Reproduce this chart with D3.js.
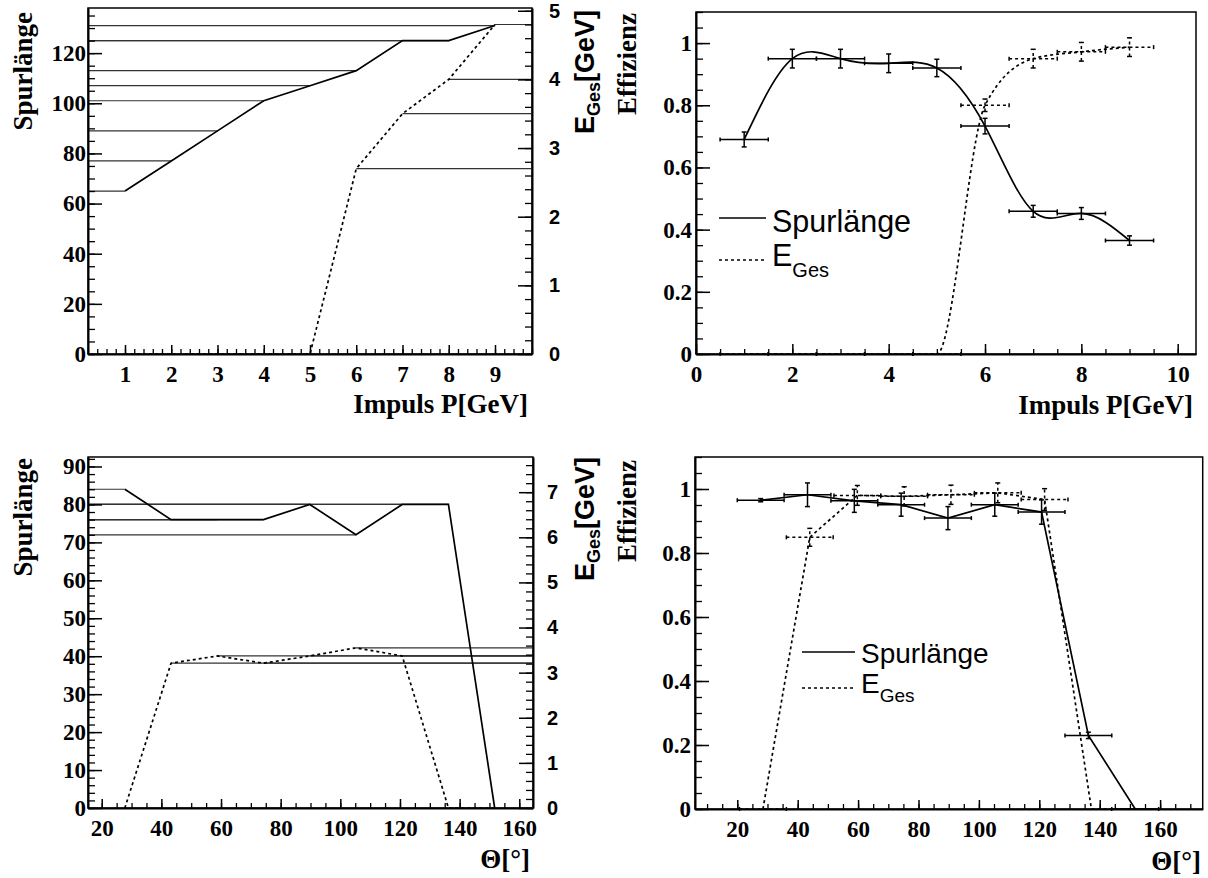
<!DOCTYPE html>
<html>
<head>
<meta charset="utf-8">
<script src="https://cdn.jsdelivr.net/npm/d3@7"></script>
<style>
  body { margin: 0; background: #fff; }
  svg { display: block; }
</style>
</head>
<body>
<svg id="chart" width="1208" height="878"></svg>
<script>
// ---- Daten ----
// Impuls-Scan
const impuls = [1, 2, 3, 4, 5, 6, 7, 8, 9];
const impulsHalfBin = 0.5;
const spurlaengeP = [65, 77, 89, 101, 107, 113, 125, 125, 131];
const eGesP = [0, 0, 0, 0, 0, 2.7, 3.5, 4.0, 4.8];
const effSpurP = [0.69, 0.95, 0.95, 0.935, 0.92, 0.733, 0.459, 0.452, 0.365];
const effSpurPErr = [0.024, 0.03, 0.03, 0.03, 0.028, 0.025, 0.019, 0.019, 0.015];
const effEP = [0, 0, 0, 0, 0, 0.80, 0.95, 0.972, 0.987];
const effEPErr = [0, 0, 0, 0, 0, 0.02, 0.03, 0.03, 0.03];

// Winkel-Scan
const theta = [27.75, 43.25, 58.75, 74.25, 89.75, 105.25, 120.75, 136.25, 151.75];
const thetaE = [28.5, 44, 59.75, 75.25, 90.75, 106.25, 121.75, 137.25, 152.75]; // E_Ges leicht versetzt
const thetaHalfBin = 7.75;
const spurlaengeTheta = [84, 76, 76, 76, 80, 72, 80, 80, 0];
const eGesTheta = [0, 3.21, 3.37, 3.21, 3.37, 3.55, 3.37, 0, 0];
const effSpurTheta = [0.965, 0.982, 0.963, 0.951, 0.909, 0.951, 0.928, 0.23, 0];
const effSpurThetaErr = [0.005, 0.037, 0.036, 0.036, 0.036, 0.036, 0.038, 0.01, 0];
const effETheta = [0, 0.849, 0.98, 0.977, 0.982, 0.988, 0.967, 0, 0];
const effEThetaErr = [0, 0.028, 0.031, 0.03, 0.03, 0.031, 0.034, 0, 0];

// Achsenbeschriftungen
const ticksP = [1, 2, 3, 4, 5, 6, 7, 8, 9];
const ticksP2 = [0, 2, 4, 6, 8, 10];
const ticksSpurP = [0, 20, 40, 60, 80, 100, 120];
const ticksEP = [0, 1, 2, 3, 4, 5];
const ticksEff = [0, 0.2, 0.4, 0.6, 0.8, 1];
const ticksTheta = [20, 40, 60, 80, 100, 120, 140, 160];
const ticksSpurTheta = [0, 10, 20, 30, 40, 50, 60, 70, 80, 90];
const ticksETheta = [0, 1, 2, 3, 4, 5, 6, 7];

const SERIF = '"Liberation Serif", "Times New Roman", serif';
const SANS = '"Liberation Sans", Arial, Helvetica, sans-serif';
const DASH = '3,3';

const svg = d3.select('#chart');
let clipCount = 0;

// Achse im ROOT-Stil: Haupt- und Nebenstriche nach innen
function rootAxis(g, axisFn, scale, transform, major, minor, majLen, minLen, pad, font, fsize) {
    g.append('g').attr('transform', transform)
        .call(axisFn(scale).tickValues(minor).tickSizeInner(-minLen).tickSizeOuter(0).tickFormat(''))
        .call(a => a.select('.domain').remove())
        .selectAll('line').attr('stroke-width', 1.3);
    const a = g.append('g').attr('transform', transform)
        .call(axisFn(scale).tickValues(major).tickSizeInner(-majLen).tickSizeOuter(0)
            .tickPadding(pad).tickFormat(d => String(d)));
    a.attr('font-family', null).attr('font-size', null);
    a.select('.domain').attr('stroke-width', 2);
    a.selectAll('line').attr('stroke-width', 1.5);
    a.selectAll('text')
        .style('font-family', font).style('font-size', fsize + 'px')
        .style('font-weight', 'bold').style('fill', '#000');
    return a;
}

function frame(g, x, y) {
    const [x0, x1] = x.range();
    const [yb, yt] = y.range();
    g.append('rect').attr('x', x0).attr('y', yt).attr('width', x1 - x0).attr('height', yb - yt)
        .attr('fill', 'none').attr('stroke', '#000').attr('stroke-width', 1.5);
    const id = 'clip' + (clipCount++);
    g.append('clipPath').attr('id', id).append('rect')
        .attr('x', x0).attr('y', yt).attr('width', x1 - x0).attr('height', yb - yt);
    return 'url(#' + id + ')';
}

function rotTitle(g, x, y, parts) {
    const t = g.append('text').attr('transform', `translate(${x},${y}) rotate(-90)`)
        .attr('text-anchor', 'end');
    parts.forEach(p => {
        const s = t.append('tspan').text(p.text).style('font-family', p.font)
            .style('font-size', p.size + 'px').style('font-weight', 'bold');
        if (p.dy) s.attr('dy', p.dy);
    });
    return t;
}

function xTitle(g, x, y, text, size) {
    g.append('text').attr('x', x).attr('y', y).attr('text-anchor', 'end')
        .style('font-family', SERIF).style('font-weight', 'bold').style('font-size', size + 'px').text(text);
}

function errorBars(g, xs, ys, errs, half, x, y, dashed) {
    const eb = g.append('g').attr('stroke', '#000').attr('stroke-width', 1.5);
    const dash = dashed ? DASH : null;
    xs.forEach((xv, i) => {
        const cy = y(ys[i]), xa = x(xv - half), xb = x(xv + half), cx = x(xv);
        eb.append('line').attr('x1', xa).attr('x2', xb).attr('y1', cy).attr('y2', cy)
            .attr('stroke-dasharray', dash);
        [xa, xb].forEach(e => eb.append('line').attr('x1', e).attr('x2', e)
            .attr('y1', cy - 2).attr('y2', cy + 2));
        if (errs[i] > 0) {
            const ya = y(ys[i] - errs[i]), yb = y(ys[i] + errs[i]);
            eb.append('line').attr('x1', cx).attr('x2', cx).attr('y1', ya).attr('y2', yb)
                .attr('stroke-dasharray', dash);
            [ya, yb].forEach(e => eb.append('line').attr('x1', cx - 2.5).attr('x2', cx + 2.5)
                .attr('y1', e).attr('y2', e));
        }
    });
}

function legend(g, x0, x1, tx, ySolid, yDash, size, subSize) {
    g.append('line').attr('x1', x0).attr('x2', x1).attr('y1', ySolid.line).attr('y2', ySolid.line)
        .attr('stroke', '#000').attr('stroke-width', 1.5);
    g.append('line').attr('x1', x0).attr('x2', x1).attr('y1', yDash.line).attr('y2', yDash.line)
        .attr('stroke', '#000').attr('stroke-width', 1.5).attr('stroke-dasharray', DASH);
    g.append('text').attr('x', tx).attr('y', ySolid.text).style('font-family', SANS)
        .style('font-size', size + 'px').text('Spurlänge');
    const e = g.append('text').attr('x', tx).attr('y', yDash.text).style('font-family', SANS)
        .style('font-size', size + 'px');
    e.append('tspan').text('E');
    e.append('tspan').style('font-size', subSize + 'px').attr('dy', yDash.sub).text('Ges');
}

// Projektionslinien (Punkt -> Achse)
function guides(g, xs, ys, x, y, side) {
    const [x0, x1] = x.range();
    g.append('g').selectAll('line').data(xs).join('line')
        .attr('x1', side === 'left' ? x0 : d => x(d))
        .attr('x2', side === 'left' ? d => x(d) : x1)
        .attr('y1', (d, i) => y(ys[i])).attr('y2', (d, i) => y(ys[i]))
        .attr('stroke', '#333').attr('stroke-width', 1.2);
}

function polyline(g, xs, ys, x, y, dashed, curve, clip) {
    const line = d3.line().x(d => x(d[0])).y(d => y(d[1])).curve(curve || d3.curveLinear);
    g.append('path').datum(xs.map((v, i) => [v, ys[i]])).attr('d', line)
        .attr('fill', 'none').attr('stroke', '#000').attr('stroke-width', 1.7)
        .attr('stroke-dasharray', dashed ? DASH : null).attr('clip-path', clip || null);
}

const eTitle = [{text: 'E', font: SANS, size: 27}, {text: 'Ges', font: SANS, size: 18, dy: 6},
    {text: '[GeV]', font: SANS, size: 27, dy: -6}];

// ===== Panel 1: Spurlänge / E_Ges vs Impuls =====
{
    const g = svg.append('g');
    const x = d3.scaleLinear([0.2, 9.8], [88, 532]);
    const yL = d3.scaleLinear([0, 138], [354, 8]);
    const yR = d3.scaleLinear([0, 5.04], [354, 8]);
    frame(g, x, yL);
    guides(g, impuls, spurlaengeP, x, yL, 'left');
    guides(g, impuls, eGesP, x, yR, 'right');
    polyline(g, impuls, spurlaengeP, x, yL, false);
    polyline(g, impuls, eGesP, x, yR, true);
    rootAxis(g, d3.axisLeft, yL, 'translate(88,0)', ticksSpurP, d3.range(0, 138, 5), 14, 7, 2, SERIF, 23);
    rootAxis(g, d3.axisRight, yR, 'translate(532,0)', ticksEP, d3.range(0, 5.05, 0.2), 14, 7, 17, SANS, 20);
    rootAxis(g, d3.axisBottom, x, 'translate(0,354)', ticksP, d3.range(0.2, 9.81, 0.2), 9, 5, 12, SERIF, 23);
    rotTitle(g, 32, 12, [{text: 'Spurlänge', font: SERIF, size: 27}]);
    rotTitle(g, 594, 10, eTitle);
    xTitle(g, 528, 413, 'Impuls P[GeV]', 27);
}

// ===== Panel 2: Effizienz vs Impuls =====
{
    const g = svg.append('g');
    const x = d3.scaleLinear([0, 10.38], [696, 1196]);
    const y = d3.scaleLinear([0, 1.1], [354, 12]);
    const clip = frame(g, x, y);
    polyline(g, impuls, effSpurP, x, y, false, d3.curveNatural, clip);
    polyline(g, impuls, effEP, x, y, true, d3.curveMonotoneX, clip);
    errorBars(g, impuls, effSpurP, effSpurPErr, impulsHalfBin, x, y, false);
    errorBars(g, impuls, effEP, effEPErr, impulsHalfBin, x, y, true);
    rootAxis(g, d3.axisLeft, y, 'translate(696,0)', ticksEff, d3.range(0, 1.101, 0.05), 14, 7, 4, SERIF, 23);
    rootAxis(g, d3.axisBottom, x, 'translate(0,354)', ticksP2, d3.range(0, 10.38, 0.5), 10, 5, 12, SERIF, 23);
    rotTitle(g, 636, 13, [{text: 'Effizienz', font: SERIF, size: 27}]);
    xTitle(g, 1193, 414, 'Impuls P[GeV]', 27);
    legend(g, 719, 766, 772, {line: 218, text: 232}, {line: 260, text: 266, sub: 11}, 30.5, 20);
}

// ===== Panel 3: Spurlänge / E_Ges vs Theta =====
{
    const g = svg.append('g');
    const x = d3.scaleLinear([15.4, 164.6], [88, 533]);
    const yL = d3.scaleLinear([0, 92.5], [808, 457]);
    const yR = d3.scaleLinear([0, 7.78], [808, 457]);
    frame(g, x, yL);
    guides(g, theta, spurlaengeTheta, x, yL, 'left');
    guides(g, theta, eGesTheta, x, yR, 'right');
    polyline(g, theta, spurlaengeTheta, x, yL, false);
    polyline(g, theta, eGesTheta, x, yR, true);
    rootAxis(g, d3.axisLeft, yL, 'translate(88,0)', ticksSpurTheta, d3.range(0, 92.5, 2), 14, 7, 2, SERIF, 23);
    rootAxis(g, d3.axisRight, yR, 'translate(533,0)', ticksETheta, d3.range(0, 7.78, 0.2), 14, 7, 14, SANS, 20);
    rootAxis(g, d3.axisBottom, x, 'translate(0,808)', ticksTheta, d3.range(20, 164.6, 5), 9, 5, 12, SERIF, 23);
    rotTitle(g, 32, 458, [{text: 'Spurlänge', font: SERIF, size: 27}]);
    rotTitle(g, 594, 457, eTitle);
    xTitle(g, 530, 868, 'Θ[°]', 27);
}

// ===== Panel 4: Effizienz vs Theta =====
{
    const g = svg.append('g');
    const x = d3.scaleLinear([6, 174.1], [695, 1202.7]);
    const y = d3.scaleLinear([0, 1.1], [809, 457]);
    const clip = frame(g, x, y);
    polyline(g, theta, effSpurTheta, x, y, false, d3.curveLinear, clip);
    polyline(g, thetaE, effETheta, x, y, true, d3.curveLinear, clip);
    errorBars(g, theta, effSpurTheta, effSpurThetaErr, thetaHalfBin, x, y, false);
    errorBars(g, thetaE.slice(0, 7), effETheta.slice(0, 7), effEThetaErr, thetaHalfBin, x, y, true);
    rootAxis(g, d3.axisLeft, y, 'translate(695,0)', ticksEff, d3.range(0, 1.101, 0.05), 14, 7, 4, SERIF, 23);
    rootAxis(g, d3.axisBottom, x, 'translate(0,809)', ticksTheta, d3.range(10, 174, 5), 9, 5, 12, SERIF, 23);
    rotTitle(g, 636, 460, [{text: 'Effizienz', font: SERIF, size: 27}]);
    xTitle(g, 1201, 870, 'Θ[°]', 27);
    legend(g, 802, 855, 861, {line: 652, text: 663}, {line: 688, text: 693, sub: 9}, 28, 19);
}
</script>
</body>
</html>
